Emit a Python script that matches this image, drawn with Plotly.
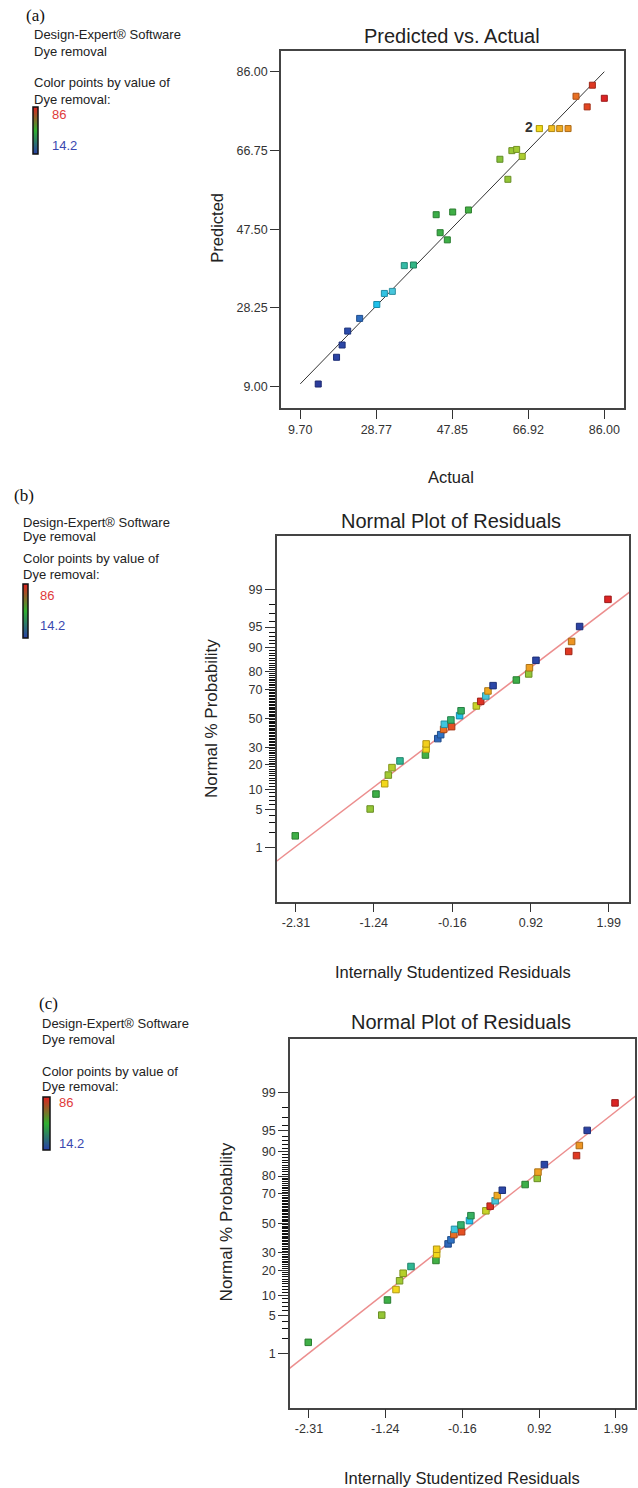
import plotly.graph_objects as go
from statistics import NormalDist

W, H = 638, 1488
nd = NormalDist()

# ---------------- data: panel (a) Predicted vs. Actual ----------------
actual = [14.2, 18.8, 20.2, 21.6, 24.6, 28.9, 30.8, 32.8, 35.8, 38.1,
          43.8, 44.8, 46.6, 47.95, 51.9, 59.8, 61.8, 62.8, 64.0, 65.4,
          69.7, 69.7, 72.8, 74.8, 76.9, 78.9, 81.7, 83.0, 86.0]
predicted = [9.66, 16.2, 19.2, 22.6, 25.7, 29.1, 31.8, 32.3, 38.6, 38.75,
             51.05, 46.65, 44.9, 51.7, 52.2, 64.6, 59.7, 66.7, 67.0, 65.3,
             72.1, 72.1, 72.1, 72.1, 72.1, 80.0, 77.4, 82.7, 79.5]
ref_line = [9.70, 86.00]
a_xticks = [9.70, 28.77, 47.85, 66.92, 86.00]
a_yticks = [9.00, 28.25, 47.50, 66.75, 86.00]
dup_point = (69.7, 72.1)
dup_label = "2"

# ---------------- data: panels (b), (c) Normal plot of residuals ----------------
residuals = [-2.32, -1.29, -1.21, -1.09, -1.04, -0.99, -0.88, -0.53, -0.52, -0.52,
             -0.36, -0.32, -0.28, -0.27, -0.17, -0.18, -0.06, -0.04, 0.17, 0.23,
             0.30, 0.33, 0.40, 0.72, 0.89, 0.90, 0.99, 1.44, 1.48, 1.59, 1.98]
normal_prob = [1.7, 5.1, 8.6, 11.9, 15.3, 18.7, 22.1, 25.4, 29.0, 32.2,
               35.7, 38.4, 42.1, 45.7, 44.0, 48.8, 51.9, 55.4, 58.8, 62.0,
               65.6, 68.9, 72.2, 75.5, 78.8, 81.9, 85.2, 88.6, 91.7, 95.1, 98.4]
res_dye = [48, 62, 46, 70, 64, 66, 37, 50, 70, 71,
           24, 25, 79, 32, 81, 40, 29, 41, 67, 84,
           33, 75, 21, 45, 62, 76, 20, 83, 77, 18, 86]
res_xticks = [-2.31, -1.24, -0.16, 0.92, 1.99]
prob_ticks = [1, 5, 10, 20, 30, 50, 70, 80, 90, 95, 99]
fit_line = [-2.7, 2.4]   # residual == normal quantile

dye_min, dye_max = 14.2, 86

point_scale = [[0, '#2b3c9c'], [0.10, '#2b48a8'], [0.15, '#2f72c4'], [0.205, '#1fc0ea'],
               [0.26, '#48c6dc'], [0.31, '#2fb89a'], [0.40, '#3aae48'], [0.53, '#44b044'],
               [0.62, '#80c03a'], [0.71, '#a8cc30'], [0.77, '#f2dc1a'], [0.82, '#f2bc20'],
               [0.87, '#ee9a22'], [0.91, '#e86424'], [0.95, '#e03c22'], [1, '#dc2424']]
edge_scale = [[0, '#1c2870'], [0.10, '#1c3078'], [0.15, '#1f4f8c'], [0.205, '#168aa8'],
              [0.26, '#3090a0'], [0.31, '#20846e'], [0.40, '#287c32'], [0.53, '#2e7e2e'],
              [0.62, '#5a8a28'], [0.71, '#789222'], [0.77, '#b09e12'], [0.82, '#b08616'],
              [0.87, '#aa6e18'], [0.91, '#a84618'], [0.95, '#a02a18'], [1, '#9c1a1a']]
legend_scale = [[0, '#2840a8'], [0.5, '#30b030'], [1, '#e02020']]

FONT = "Liberation Sans, Arial, sans-serif"
TICKC = '#333333'


def px(x):
    return x / W


def py(y):
    return 1 - y / H


fig = go.Figure()


def marker(vals, size):
    return dict(symbol='square', size=size, color=vals, colorscale=point_scale,
                cmin=dye_min, cmax=dye_max,
                line=dict(width=1, color=vals, colorscale=edge_scale,
                          cmin=dye_min, cmax=dye_max))


# panel (a)
fig.add_trace(go.Scatter(x=ref_line, y=ref_line, mode='lines',
                         line=dict(color='#333333', width=1), xaxis='x', yaxis='y',
                         showlegend=False, hoverinfo='skip'))
fig.add_trace(go.Scatter(x=actual, y=predicted, mode='markers', marker=marker(actual, 6),
                         xaxis='x', yaxis='y', showlegend=False))

# panels (b), (c)
prob_z = [nd.inv_cdf(p / 100) for p in normal_prob]
for xa, ya in (('x2', 'y2'), ('x3', 'y3')):
    fig.add_trace(go.Scatter(x=fit_line, y=fit_line, mode='lines',
                             line=dict(color='#ec8e8e', width=1.5), xaxis=xa, yaxis=ya,
                             showlegend=False, hoverinfo='skip'))
    fig.add_trace(go.Scatter(x=residuals, y=prob_z, mode='markers', marker=marker(res_dye, 6.5),
                             xaxis=xa, yaxis=ya, showlegend=False))

# legend colour bars (one per panel)
bars = [(33, 107, 47, 5), (23, 584, 54, 5), (43, 1097, 53, 7)]
for bx, by, blen, bth in bars:
    fig.add_trace(go.Scatter(x=[None], y=[None], mode='markers', xaxis='x', yaxis='y',
                             showlegend=False, hoverinfo='skip',
                             marker=dict(color=[dye_min], cmin=dye_min, cmax=dye_max,
                                         colorscale=legend_scale, showscale=True,
                                         colorbar=dict(x=px(bx), xanchor='left', xpad=0,
                                                       y=py(by), yanchor='top', ypad=0,
                                                       len=blen, lenmode='pixels',
                                                       thickness=bth, thicknessmode='pixels',
                                                       outlinewidth=1.5, outlinecolor='#111',
                                                       showticklabels=False, ticks=''))))

frame = dict(showline=True, mirror=True, linecolor='#444444', linewidth=1.5,
             showgrid=False, zeroline=False, ticks='outside', tickcolor=TICKC,
             tickwidth=1, tickfont=dict(family=FONT, size=12.5, color=TICKC))

minor_pct = [p for p in range(2, 99) if p not in prob_ticks]
prob_axis = dict(tickmode='array', tickvals=[nd.inv_cdf(p / 100) for p in prob_ticks],
                 ticktext=[str(p) for p in prob_ticks], ticklen=10,
                 minor=dict(tickmode='array', tickvals=[nd.inv_cdf(p / 100) for p in minor_pct],
                            ticks='outside', ticklen=6, tickwidth=1.2, tickcolor='#111'))
res_axis = dict(tickmode='array', tickvals=res_xticks,
                ticktext=['%.2f' % v for v in res_xticks], ticklen=9)

fig.update_layout(
    width=W, height=H, margin=dict(l=0, r=0, t=0, b=0, autoexpand=False),
    paper_bgcolor='white', plot_bgcolor='white',
    xaxis=dict(domain=[px(281), px(624)], range=[4.86, 90.94], anchor='y',
               tickmode='array', tickvals=a_xticks, ticktext=['%.2f' % v for v in a_xticks],
               ticklen=9, **frame),
    yaxis=dict(domain=[py(408), py(51)], range=[3.8, 91.06], anchor='x',
               tickmode='array', tickvals=a_yticks, ticktext=['%.2f' % v for v in a_yticks],
               ticklen=9, **frame),
    xaxis2=dict(domain=[px(276.7), px(629)], range=[-2.575, 2.269], anchor='y2',
                **res_axis, **frame),
    yaxis2=dict(domain=[py(901.7), py(536)], range=[-3.307, 3.287], anchor='x2',
                **prob_axis, **frame),
    xaxis3=dict(domain=[px(290), px(635)], range=[-2.576, 2.26], anchor='y3',
                **res_axis, **frame),
    yaxis3=dict(domain=[py(1407.7), py(1039.3)], range=[-3.284, 3.277], anchor='x3',
                **prob_axis, **frame),
)

ann = []


def text(x, y, s, size=13, color='#222222', anchor='left', angle=0, family=FONT):
    ann.append(dict(x=px(x), y=py(y), xref='paper', yref='paper', text=s, showarrow=False,
                    xanchor=anchor, yanchor='middle', textangle=angle,
                    font=dict(family=family, size=size, color=color)))


SERIF = "Liberation Serif, Times New Roman, serif"
legends = [
    # label pos, left x, y of 4 text lines, 86 pos, 14.2 pos
    ('(a)', 24, 16, 32, [34.3, 51.7, 82.3, 99.0], (50, 114.3), (50, 145.7)),
    ('(b)', 12, 495, 21, [522.7, 536.0, 558.7, 574.5], (38, 595), (38, 625)),
    ('(c)', 37, 1003.3, 40, [1023.3, 1039.3, 1071.7, 1086.7], (57, 1102.5), (57, 1143)),
]
lines = ['Design-Expert® Software', 'Dye removal', 'Color points by value of', 'Dye removal:']
for lab, lx, ly, tx, tys, p86, p14 in legends:
    text(lx, ly, lab, size=17, color='#111111', family=SERIF)
    for s, ty in zip(lines, tys):
        text(tx, ty, s, size=13)
    text(p86[0], p86[1], '86', size=13, color='#e03a3a')
    text(p14[0], p14[1], '14.2', size=13, color='#3a48b0')

# titles and axis titles
text(451.7, 36, 'Predicted vs. Actual', size=20, anchor='center')
text(216.7, 228, 'Predicted', size=16.5, anchor='center', angle=-90)
text(450.7, 476.7, 'Actual', size=16.5, anchor='center')
text(451.3, 520.7, 'Normal Plot of Residuals', size=20, anchor='center')
text(211.7, 718.3, 'Normal % Probability', size=17, anchor='center', angle=-90)
text(453, 971.7, 'Internally Studentized Residuals', size=16.5, anchor='center')
text(461, 1022.3, 'Normal Plot of Residuals', size=20, anchor='center')
text(226.7, 1221.7, 'Normal % Probability', size=17, anchor='center', angle=-90)
text(462.3, 1478, 'Internally Studentized Residuals', size=16.5, anchor='center')

# duplicate-point label
ann.append(dict(x=dup_point[0], y=dup_point[1], xref='x', yref='y', text='<b>%s</b>' % dup_label,
                showarrow=False, xanchor='right', yanchor='middle', xshift=-4, yshift=2,
                font=dict(family=FONT, size=14, color='#333333')))

fig.update_layout(annotations=ann)
fig.write_html("out.html", config={'displayModeBar': False},
               post_script="document.body.style.margin='0';document.body.style.overflow='hidden';")
